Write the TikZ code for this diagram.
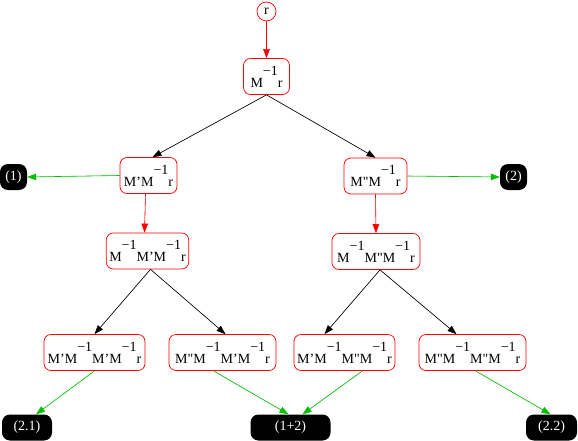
\documentclass[tikz,border=0pt]{standalone}
\usepackage{fontspec}
\setmainfont{Liberation Serif}[Ligatures=TeXOff]
\usetikzlibrary{arrows.meta}
\newcommand\mi{\raisebox{12pt}{−1}}
\begin{document}
\begin{tikzpicture}[x=1pt,y=-1pt,
  font=\fontsize{14}{16}\selectfont,
  rn/.style={draw=red, line width=0.7pt, rounded corners=7pt, minimum height=36pt, inner xsep=3pt, inner ysep=2pt},
  bn/.style={fill=black, text=white, rounded corners=8pt, minimum height=26pt, inner sep=2pt},
  ar/.style={-{Triangle[length=9pt,width=6.5pt]}, line width=0.6pt},
  redar/.style={ar, draw=red, fill=red},
  grar/.style={ar, draw=green!75!black, fill=green!75!black},
  blar/.style={ar, draw=black, fill=black}]
\useasboundingbox (0,0) rectangle (578,441);
\node[draw=red, line width=0.7pt, circle, minimum size=19pt, inner sep=0pt] (r) at (266.5,11.5) {r};
\node[rn, minimum width=46pt] (A) at (266.5,76.5) {M\mi r};
\node[rn, minimum width=57pt] (B) at (148.5,175.5) {M’M\mi r};
\node[rn, minimum width=63pt] (Bp) at (375.5,176) {M"M\mi r};
\node[rn, minimum width=81pt] (C) at (147.5,251) {M\mi M’M\mi r};
\node[rn, minimum width=88pt] (Cp) at (376,251.5) {M\mi M"M\mi r};
\node[rn, minimum width=101pt] (D1) at (94.5,352.5) {M’M\mi M’M\mi r};
\node[rn, minimum width=107pt] (D2) at (222.5,352.5) {M"M\mi M’M\mi r};
\node[rn, minimum width=101pt] (D3) at (344.5,352.5) {M’M\mi M"M\mi r};
\node[rn, minimum width=107pt] (D4) at (472.5,352.5) {M"M\mi M"M\mi r};
\node[bn, minimum width=27pt] (one) at (13.5,177) {(1)};
\node[bn, minimum width=27pt] (two) at (513.5,177) {(2)};
\node[bn, minimum width=50pt] (b21) at (27,427.5) {(2.1)};
\node[bn, minimum width=80pt] (b12) at (290.5,427.5) {(1+2)};
\node[bn, minimum width=51pt] (b22) at (551.5,427.5) {(2.2)};
% red
\draw[redar] (r) -- (A);
\draw[redar] ([xshift=-3pt]B.south) -- ([xshift=-3pt]C.north);
\draw[redar] (Bp.south) -- (Cp.north);
% black
\draw[blar] (A.south) -- ([xshift=4pt]B.north);
\draw[blar] (A.south) -- (Bp.north);
\draw[blar] ([xshift=3pt]C.south) -- (D1.north);
\draw[blar] ([xshift=3pt]C.south) -- ([xshift=3pt]D2.north);
\draw[blar] ([xshift=4pt]Cp.south) -- ([xshift=-20pt]D3.north);
\draw[blar] ([xshift=4pt]Cp.south) -- ([xshift=-16pt]D4.north);
% green
\draw[grar] (B.west) -- (one.east);
\draw[grar] (Bp.east) -- (two.west);
\draw[grar] (D1.south) -- ([xshift=9pt]b21.north);
\draw[grar] ([xshift=-9pt]D2.south) -- ([xshift=-2pt]b12.north);
\draw[grar] ([xshift=18pt]D3.south) -- ([xshift=12pt]b12.north);
\draw[grar] ([xshift=3pt]D4.south) -- ([xshift=-1pt]b22.north);
\end{tikzpicture}
\end{document}
